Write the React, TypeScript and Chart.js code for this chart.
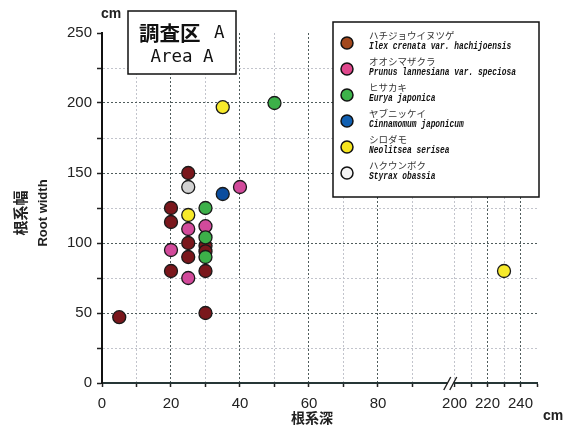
import { useEffect, useRef } from "react";
import { Chart, registerables } from "chart.js";

Chart.register(...registerables);

// Species names (Japanese / scientific)
const SPECIES_JA = ["ハチジョウイヌツゲ", "オオシマザクラ", "ヒサカキ", "ヤブニッケイ", "シロダモ", "ハクウンボク"];
const SPECIES_LA = [
  "Ilex crenata var. hachijoensis",
  "Prunus lannesiana var. speciosa",
  "Eurya japonica",
  "Cinnamomum japonicum",
  "Neolitsea serisea",
  "Styrax obassia",
];

// Root depth (cm) and root width (cm) for each tree
const ILEX_DEPTH = [5, 20, 20, 20, 25, 25, 25, 30, 30, 30, 30];
const ILEX_WIDTH = [47, 125, 115, 80, 150, 100, 90, 98, 94, 80, 50];
const PRUNUS_DEPTH = [20, 25, 25, 30, 40];
const PRUNUS_WIDTH = [95, 110, 75, 112, 140];
const EURYA_DEPTH = [30, 30, 30, 50];
const EURYA_WIDTH = [125, 104, 90, 200];
const CINNAMOMUM_DEPTH = [35];
const CINNAMOMUM_WIDTH = [135];
const NEOLITSEA_DEPTH = [35, 25, 230];
const NEOLITSEA_WIDTH = [197, 120, 80];
const STYRAX_DEPTH = [25];
const STYRAX_WIDTH = [140];

const DEPTHS = [ILEX_DEPTH, PRUNUS_DEPTH, EURYA_DEPTH, CINNAMOMUM_DEPTH, NEOLITSEA_DEPTH, STYRAX_DEPTH];
const WIDTHS = [ILEX_WIDTH, PRUNUS_WIDTH, EURYA_WIDTH, CINNAMOMUM_WIDTH, NEOLITSEA_WIDTH, STYRAX_WIDTH];

const POINT_COLORS = ["#7a171c", "#d24a9b", "#3cb049", "#0b4d9e", "#f7ea2b", "#d2d2d2"];
const LEGEND_COLORS = ["#a3481d", "#e0488d", "#3db34a", "#1160b2", "#f6e51f", "#f4f4f4"];

// Axis ticks
const X_TICKS = [0, 10, 20, 30, 40, 50, 60, 70, 80, 90, 200, 210, 220, 230, 240, 250];
const X_TICK_LABELS = ["0", "", "20", "", "40", "", "60", "", "80", "", "200", "", "220", "", "240", ""];
const Y_TICKS = [0, 25, 50, 75, 100, 125, 150, 175, 200, 225, 250];
const Y_TICK_LABELS = ["0", "", "50", "", "100", "", "150", "", "200", "", "250"];

// Broken depth axis: 0–100 at full scale, 200–250 compressed after the break
const BREAK_LOW = 100;
const BREAK_HIGH = 200;
const BREAK_POS = 102.2;
const FAR_RATIO = 0.478;
const xPos = (v: number) => (v <= BREAK_LOW ? v : BREAK_POS + (v - BREAK_HIGH) * FAR_RATIO);

const MAJOR_GRID = "#4f5c5c";
const MINOR_GRID = "#c2c4cc";

const xGridColor = (v: number) => {
  if (v === 0 || v === 250) return "rgba(0,0,0,0)";
  if (v === 200) return MINOR_GRID;
  return v % 20 === 0 ? MAJOR_GRID : MINOR_GRID;
};
const yGridColor = (v: number) => {
  if (v === 0 || v === 250) return "rgba(0,0,0,0)";
  return v % 50 === 0 ? MAJOR_GRID : MINOR_GRID;
};

const TICK_FONT = { family: "'Liberation Sans', Arial, sans-serif", size: 15 };

const decorations = {
  id: "decorations",
  afterDraw(chart: any) {
    const ctx: CanvasRenderingContext2D = chart.ctx;
    const xs = chart.scales.x;
    const area = chart.chartArea;
    ctx.save();

    // break mark on the depth axis
    const bx = (xs.getPixelForValue(xPos(BREAK_LOW)) + xs.getPixelForValue(xPos(BREAK_HIGH))) / 2;
    const by = area.bottom;
    ctx.fillStyle = "#ffffff";
    ctx.fillRect(bx - 3, by - 3, 6, 6);
    ctx.strokeStyle = "#222";
    ctx.lineWidth = 1.4;
    ctx.beginPath();
    ctx.moveTo(bx - 7, by + 7);
    ctx.lineTo(bx + 0, by - 6);
    ctx.moveTo(bx - 1, by + 7);
    ctx.lineTo(bx + 6, by - 6);
    ctx.stroke();

    // unit labels
    ctx.fillStyle = "#222";
    ctx.font = "bold 14px 'Liberation Sans', Arial, sans-serif";
    ctx.textAlign = "left";
    ctx.textBaseline = "alphabetic";
    ctx.fillText("cm", 101, 18);
    ctx.fillText("cm", 543, 420);

    // axis titles
    ctx.textAlign = "center";
    ctx.textBaseline = "middle";
    ctx.font = "bold 14px 'Noto Sans CJK JP', sans-serif";
    ctx.fillText("根系深", 312, 418);

    ctx.save();
    ctx.translate(20, 213);
    ctx.rotate(-Math.PI / 2);
    ctx.font = "bold 15px 'Noto Sans CJK JP', sans-serif";
    ctx.fillText("根系幅", 0, 0);
    ctx.restore();

    ctx.save();
    ctx.translate(43, 213);
    ctx.rotate(-Math.PI / 2);
    ctx.font = "bold 13px 'Liberation Sans', Arial, sans-serif";
    ctx.fillText("Root width", 0, 0);
    ctx.restore();

    // site label box
    ctx.fillStyle = "#ffffff";
    ctx.fillRect(128, 11, 108, 63);
    ctx.strokeStyle = "#111";
    ctx.lineWidth = 1.5;
    ctx.strokeRect(128, 11, 108, 63);
    ctx.fillStyle = "#111";
    ctx.textAlign = "left";
    ctx.textBaseline = "middle";
    ctx.font = "bold 20.5px 'Noto Sans CJK JP', sans-serif";
    ctx.fillText("調査区", 139, 33);
    ctx.font = "17.5px 'DejaVu Sans Mono', monospace";
    ctx.fillText("A", 214, 33);
    ctx.textAlign = "center";
    ctx.fillText("Area A", 182, 57);

    // species legend
    ctx.fillStyle = "#ffffff";
    ctx.fillRect(333, 22, 206, 175);
    ctx.strokeStyle = "#111";
    ctx.lineWidth = 1.5;
    ctx.strokeRect(333, 22, 206, 175);
    SPECIES_JA.forEach((name, i) => {
      const my = 43 + i * 26;
      ctx.beginPath();
      ctx.arc(347, my, 6, 0, Math.PI * 2);
      ctx.fillStyle = LEGEND_COLORS[i];
      ctx.fill();
      ctx.lineWidth = 1.5;
      ctx.strokeStyle = "#111";
      ctx.stroke();

      ctx.fillStyle = "#333";
      ctx.textAlign = "left";
      ctx.textBaseline = "middle";
      ctx.font = "9.5px 'Noto Sans CJK JP', sans-serif";
      ctx.fillText(name, 369, my - 8);

      ctx.save();
      ctx.translate(369, my + 3.5);
      ctx.scale(0.79, 1);
      ctx.fillStyle = "#111";
      ctx.font = "italic bold 10px 'Liberation Mono', 'DejaVu Sans Mono', monospace";
      ctx.fillText(SPECIES_LA[i], 0, 0);
      ctx.restore();
    });

    ctx.restore();
  },
};

export default function App() {
  const canvasRef = useRef<HTMLCanvasElement | null>(null);

  useEffect(() => {
    const canvas = canvasRef.current;
    if (!canvas) return;

    const datasets = SPECIES_LA.map((label, i) => ({
      label,
      data: DEPTHS[i].map((d, j) => ({ x: xPos(d), y: WIDTHS[i][j] })),
      backgroundColor: POINT_COLORS[i],
      borderColor: "#1a1a1a",
      borderWidth: 1.3,
      pointRadius: 6.5,
      pointHoverRadius: 6.5,
      order: -i,
    }));

    const chart = new Chart(canvas, {
      type: "scatter",
      data: { datasets },
      options: {
        responsive: false,
        animation: false,
        devicePixelRatio: 1,
        layout: { padding: { top: 33, right: 31, bottom: 23, left: 0 } },
        plugins: { legend: { display: false }, tooltip: { enabled: false } },
        scales: {
          x: {
            type: "linear",
            min: 0,
            max: xPos(250),
            afterBuildTicks: (scale: any) => {
              scale.ticks = X_TICKS.map((v) => ({ value: xPos(v) }));
            },
            afterFit: (scale: any) => {
              scale.height = 30;
            },
            ticks: {
              autoSkip: false,
              maxRotation: 0,
              padding: 8,
              color: "#222",
              font: TICK_FONT,
              callback: (_v: any, idx: number) => X_TICK_LABELS[idx],
            },
            grid: {
              color: (c: any) => xGridColor(X_TICKS[c.index]),
              lineWidth: 1,
              tickLength: 4,
              tickColor: "#222",
              tickWidth: 1.5,
            },
            border: { display: true, color: "#263636", width: 2, dash: [2, 2] },
          },
          y: {
            type: "linear",
            min: 0,
            max: 250,
            afterBuildTicks: (scale: any) => {
              scale.ticks = Y_TICKS.map((v) => ({ value: v }));
            },
            afterFit: (scale: any) => {
              scale.width = 102;
            },
            ticks: {
              autoSkip: false,
              padding: 5,
              color: "#222",
              font: TICK_FONT,
              callback: (_v: any, idx: number) => Y_TICK_LABELS[idx],
            },
            grid: {
              color: (c: any) => yGridColor(Y_TICKS[c.index]),
              lineWidth: 1,
              tickLength: 5,
              tickColor: "#222",
              tickWidth: 1.5,
            },
            border: { display: true, color: "#111", width: 2, dash: [2, 2] },
          },
        },
      },
      plugins: [decorations],
    } as any);

    return () => chart.destroy();
  }, []);

  return (
    <div style={{ position: "fixed", left: 0, top: 0, width: 568, height: 436, background: "#fff" }}>
      <canvas ref={canvasRef} width={568} height={436} style={{ display: "block", width: 568, height: 436 }} />
    </div>
  );
}
